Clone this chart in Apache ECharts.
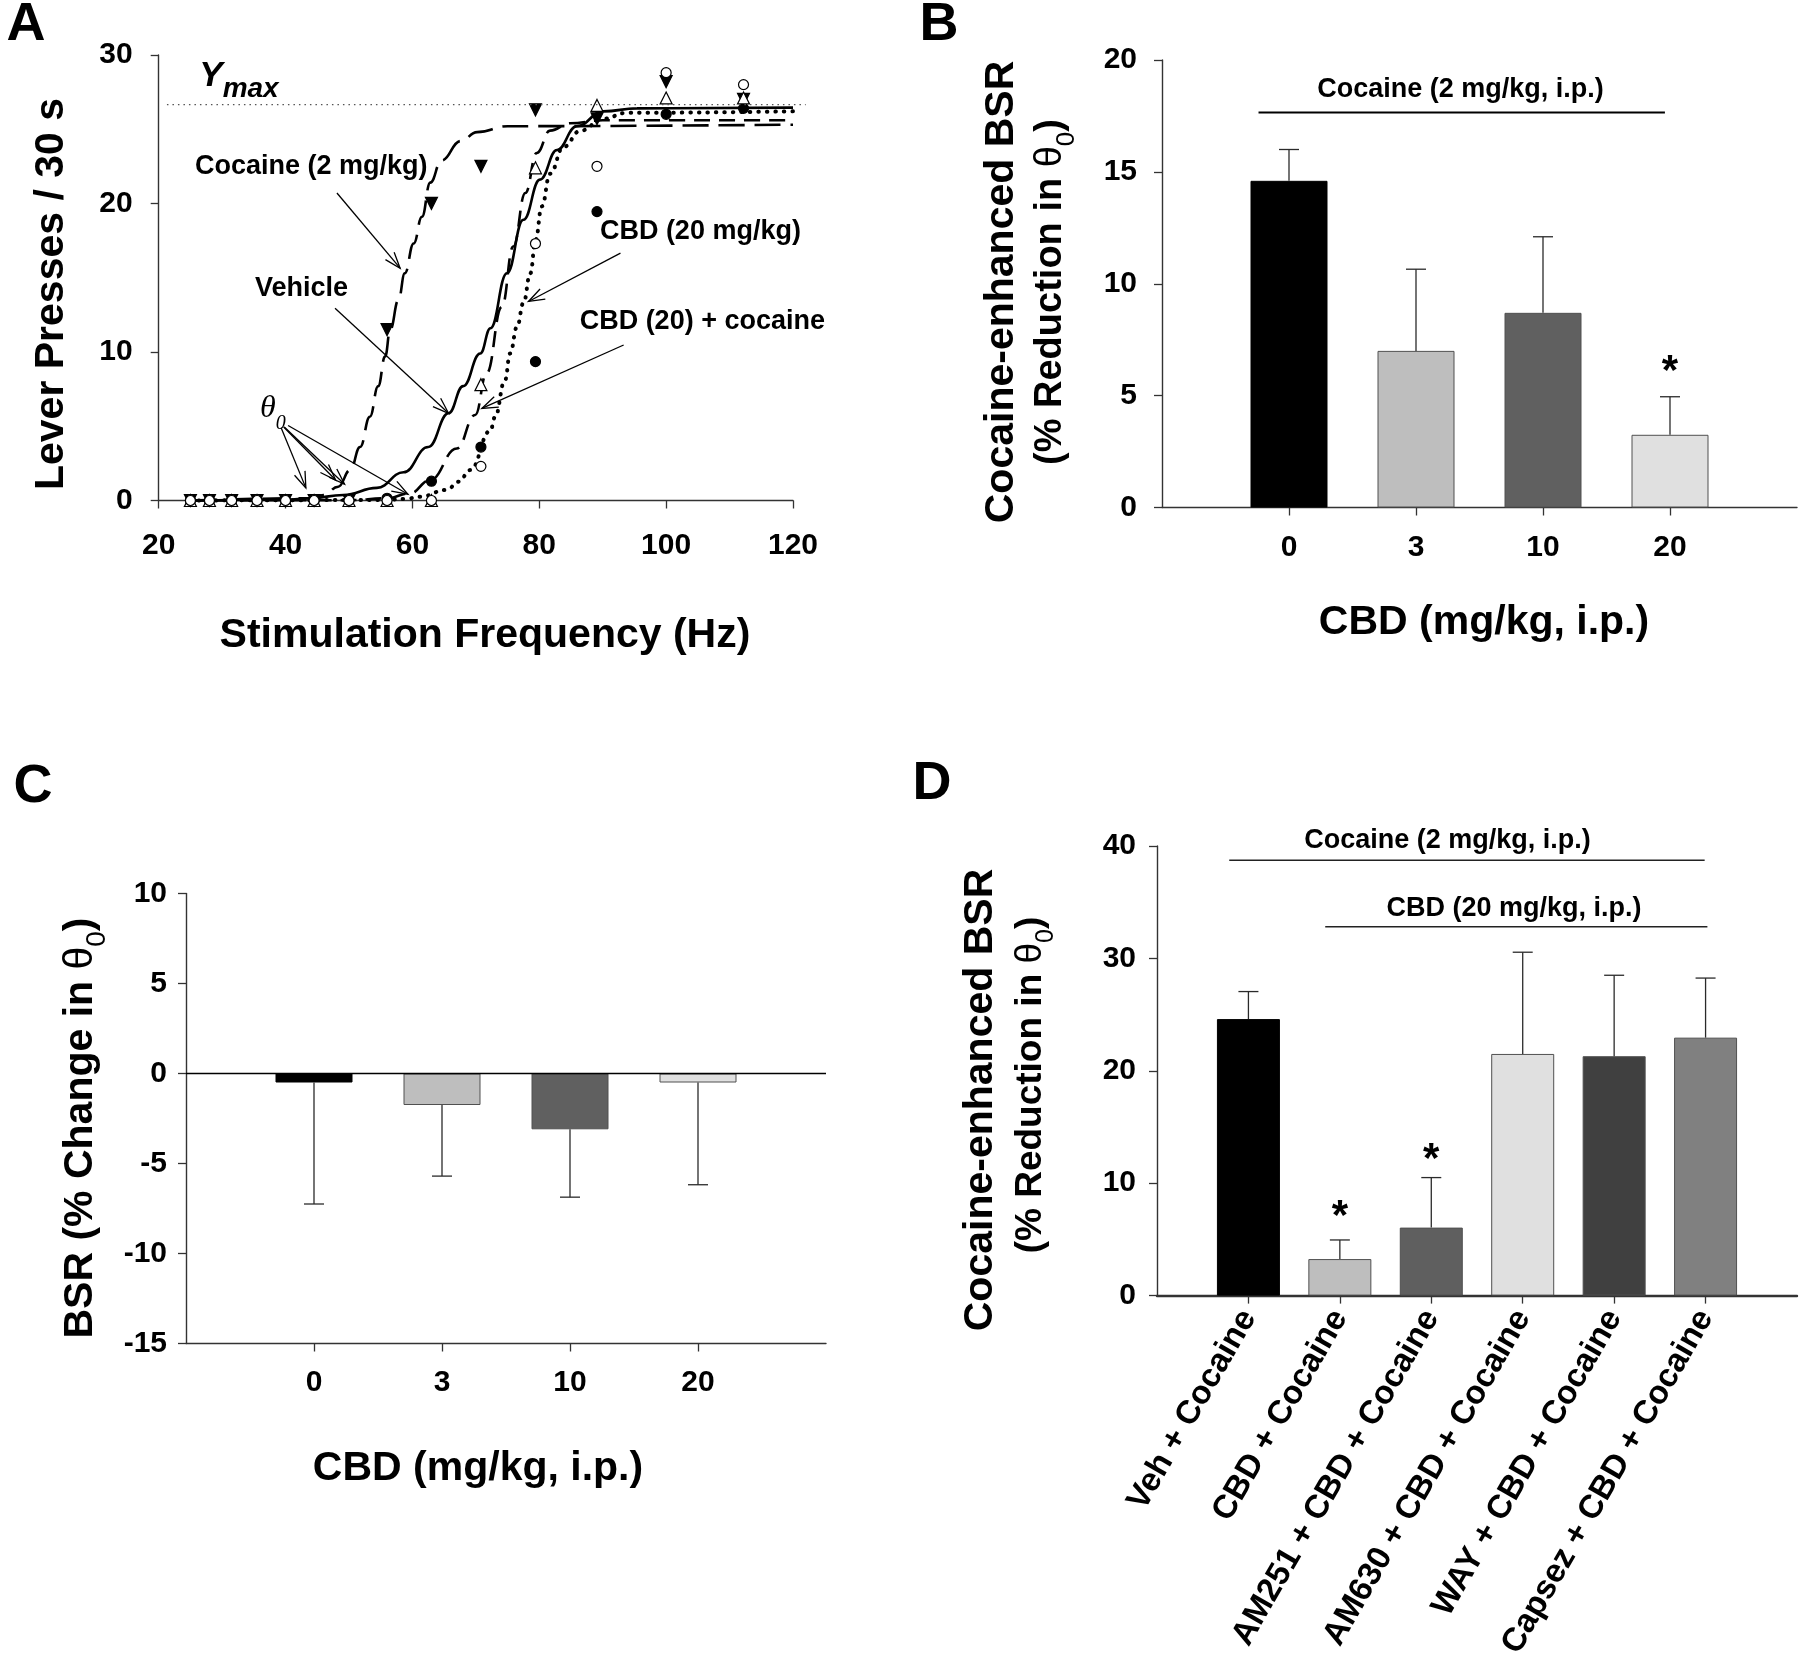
<!DOCTYPE html>
<html><head><meta charset="utf-8">
<script src="https://cdn.jsdelivr.net/npm/echarts@6/dist/echarts.min.js"></script>
<style>html,body{margin:0;padding:0;background:#fff}#c{width:1800px;height:1675px}</style>
</head><body><div id="c"></div>
<script>
// ---------- Panel A: lever presses vs stimulation frequency ----------
const freqHz = [25, 28, 31.5, 35.5, 40, 44.5, 50, 56, 63, 70.8, 79.4, 89.1, 100, 112.2];
const vehiclePresses    = [0, 0, 0, 0, 0, 0, 0, 0, 0, 7.8, 22.4, 26.6, 27.1, 27.1];
const cocainePresses    = [0, 0, 0, 0, 0, 0, 0, 11.5, 20.0, 22.5, 26.3, 25.7, 28.2, 27.0];
const cbdPresses        = [0, 0, 0, 0, 0, 0, 0, 0, 0, 2.3, 17.3, 22.5, 28.8, 28.0];
const cbdCocainePresses = [0, 0, 0, 0, 0, 0, 0, 0.15, 1.3, 3.6, 9.35, 19.45, 26.0, 26.4];

// fitted curves
const vehicleFitHz = [25, 40, 43.9, 49.1, 54.4, 58.6, 62.5, 65.7, 68.0, 70.7, 72.3, 74.9, 77.5, 80.1, 82.8, 85.9, 90.1, 95.4, 120];
const vehicleFit   = [0, 0.05, 0.15, 0.37, 0.85, 1.9, 3.6, 5.87, 7.7, 9.9, 11.6, 15.3, 18.9, 21.6, 23.6, 25.2, 26.2, 26.4, 26.45];
const cocaineFitHz = [25, 43.9, 46, 48.3, 50.2, 51.75, 53.3, 54.6, 55.7, 56.5, 57.8, 58.8, 60.2, 61.5, 62.8, 64.6, 67.6, 70.2, 75, 120];
const cocaineFit   = [0, 0.15, 0.37, 0.93, 2.05, 3.6, 5.64, 7.7, 9.7, 11.5, 13.5, 15.3, 17.3, 19.1, 21.4, 22.9, 24.2, 24.8, 25.2, 25.3];
const cbdCocFitHz  = [25, 50, 56, 59.6, 62.8, 67.0, 69.9, 71.7, 74.1, 75.9, 77.8, 79.6, 81.7, 84.9, 90, 120];
const cbdCocFit    = [0, 0.02, 0.15, 0.48, 1.38, 3.5, 5.76, 8.57, 13.05, 17.1, 20.7, 23.4, 24.9, 25.4, 25.6, 25.6];
const cbdFitHz     = [25, 55, 58.9, 61.2, 65.4, 67.3, 69.1, 72.3, 73.0, 74.6, 75.4, 76.5, 77.5, 78.6, 79.4, 80.4, 81.7, 83.8, 86.5, 90.1, 93.8, 120];
const cbdFit       = [0, 0.03, 0.1, 0.26, 0.71, 1.27, 2.05, 4.7, 5.6, 8.1, 9.9, 11.7, 13.3, 15.3, 17.5, 19.8, 22.0, 23.8, 24.9, 25.7, 26.1, 26.2];
const yMaxValue = 26.65;

// ---------- Panel B ----------
const cbdDoseLabels = ['0', '3', '10', '20'];
const bsrReduction    = [14.6, 7.0, 8.7, 3.25];
const bsrReductionSem = [1.4, 3.65, 3.4, 1.7];

// ---------- Panel C ----------
const bsrChange    = [-0.5, -1.75, -3.1, -0.5];
const bsrChangeSem = [6.75, 3.95, 3.77, 5.68];

// ---------- Panel D ----------
const groupLabels = ['Veh + Cocaine', 'CBD + Cocaine', 'AM251 + CBD + Cocaine', 'AM630 + CBD + Cocaine', 'WAY + CBD + Cocaine', 'Capsez + CBD + Cocaine'];
const bsrReductionD    = [24.6, 3.25, 6.05, 21.5, 21.3, 22.95];
const bsrReductionDSem = [2.45, 1.7, 4.45, 9.05, 7.2, 5.3];

// ---------- styling ----------
const FONT = "'Liberation Sans', Arial, Helvetica, sans-serif";
const SERIF = "'Liberation Serif', 'Times New Roman', serif";
const B_COLORS = ['#000000', '#bebebe', '#606060', '#e0e0e0'];
const D_COLORS = ['#000000', '#bebebe', '#5f5f5f', '#e0e0e0', '#404040', '#808080'];

const chart = echarts.init(document.getElementById('c'), null, {renderer: 'canvas', width: 1800, height: 1675});

const axisLineS = (w) => ({show: true, onZero: false, lineStyle: {color: '#333', width: w || 1.4}});
const axisTickS = (len) => ({show: true, inside: false, length: len || 8, lineStyle: {color: '#333', width: 1.3}});
const tickFont = (size, margin) => ({show: true, color: '#000', fontFamily: FONT, fontWeight: 'bold', fontSize: size, margin: margin});
const pad = (arr) => ['', ...arr, ''];

function fitLine(xs, ys, ls) {
  return {type: 'line', xAxisIndex: 0, yAxisIndex: 0, data: xs.map((x, i) => [x, ys[i]]),
    symbol: 'none', showSymbol: false, smooth: 0.45, smoothMonotone: 'x', clip: false, silent: true, z: 2,
    lineStyle: Object.assign({color: '#000', width: 2.6}, ls)};
}
function points(ys, symbol, filled, rotate, size, z) {
  return {type: 'scatter', xAxisIndex: 0, yAxisIndex: 0, data: freqHz.map((x, i) => [x, ys[i]]),
    symbol: symbol, symbolSize: size || 11, symbolRotate: rotate || 0, clip: false, silent: true, z: z,
    itemStyle: {color: filled ? '#000' : '#fff', borderColor: '#000', borderWidth: 1.2, opacity: 1}};
}
function bars(xi, yi, values, colors, width) {
  return {type: 'bar', xAxisIndex: xi, yAxisIndex: yi, barWidth: width, silent: true, z: 2,
    data: ['-', ...values.map((v, i) => ({value: v, itemStyle: {color: colors[i], borderColor: i === 0 ? '#000' : '#505050', borderWidth: 1}})), '-']};
}
function errorBars(xi, yi, means, sems, dir, capHalf) {
  return {type: 'custom', xAxisIndex: xi, yAxisIndex: yi, silent: true, clip: false, z: 5,
    data: means.map((m, i) => [i + 1, m, m + dir * sems[i]]),
    renderItem(params, api) {
      const x = api.value(0);
      const p1 = api.coord([x, api.value(1)]);
      const p2 = api.coord([x, api.value(2)]);
      const st = {stroke: '#2a2a2a', lineWidth: 1.3};
      return {type: 'group', children: [
        {type: 'line', shape: {x1: p1[0], y1: p1[1], x2: p2[0], y2: p2[1]}, style: st},
        {type: 'line', shape: {x1: p2[0] - capHalf, y1: p2[1], x2: p2[0] + capHalf, y2: p2[1]}, style: st}
      ]};
    }};
}
function segLines(xi, yi, segs) {
  return {type: 'custom', xAxisIndex: xi, yAxisIndex: yi, silent: true, clip: false, z: 6,
    data: segs.map(s => [s.from[0], s.from[1], s.to[0], s.to[1]]),
    encode: {x: [0, 2], y: [1, 3]},
    renderItem(params, api) {
      const s = segs[params.dataIndex];
      const p1 = api.coord([api.value(0), api.value(1)]);
      const p2 = api.coord([api.value(2), api.value(3)]);
      const st = Object.assign({stroke: '#000', lineWidth: 1.3, fill: null}, s.style || {});
      const children = [{type: 'line', shape: {x1: p1[0], y1: p1[1], x2: p2[0], y2: p2[1]}, style: st}];
      if (s.arrow) {
        const ang = Math.atan2(p2[1] - p1[1], p2[0] - p1[0]);
        const L = 17, w = 0.34;
        const h1 = [p2[0] - L * Math.cos(ang - w), p2[1] - L * Math.sin(ang - w)];
        const h2 = [p2[0] - L * Math.cos(ang + w), p2[1] - L * Math.sin(ang + w)];
        children.push({type: 'polyline', shape: {points: [h1, p2, h2]}, style: st});
      }
      return {type: 'group', children};
    }};
}
function texts(xi, yi, items) {
  return {type: 'custom', xAxisIndex: xi, yAxisIndex: yi, silent: true, clip: false, z: 7,
    data: items.map(t => [t.at[0], t.at[1]]),
    renderItem(params, api) {
      const t = items[params.dataIndex];
      const p = api.coord([api.value(0), api.value(1)]);
      return {type: 'text', x: p[0], y: p[1], style: Object.assign({
        text: t.text, fill: '#000', align: 'center', verticalAlign: 'middle',
        fontFamily: FONT, fontWeight: 'bold', fontSize: 27}, t.style || {})};
    }};
}

// annotations for panel A (data coordinates)
const arrowsA = [
  {from: [48.1, 20.7], to: [58.06, 15.64], arrow: true},
  {from: [47.8, 12.94], to: [65.7, 5.87], arrow: true},
  {from: [92.8, 16.65], to: [78.3, 13.4], arrow: true},
  {from: [93.3, 10.47], to: [70.95, 6.2], arrow: true},
  {from: [39.3, 4.9], to: [43.2, 0.85], arrow: true},
  {from: [39.7, 4.95], to: [47.9, 1.38], arrow: true},
  {from: [39.8, 4.95], to: [49.3, 1.1], arrow: true},
  {from: [40.4, 5.05], to: [59.3, 0.42], arrow: true},
  {from: [21.3, yMaxValue], to: [122, yMaxValue], style: {stroke: '#555', lineWidth: 1.2, lineDash: [1.5, 4]}}
];
const subRich = (mainSize, subSize, mainLH, subLH, family, fstyle, weight) => ({
  m: {fontSize: mainSize, fontFamily: family, fontStyle: fstyle, fontWeight: weight, fill: '#000', lineHeight: mainLH, verticalAlign: 'middle'},
  s: {fontSize: subSize, fontFamily: family, fontStyle: fstyle, fontWeight: weight, fill: '#000', lineHeight: subLH, verticalAlign: 'bottom'}
});
const textsA = [
  {at: [44.06, 22.48], text: 'Cocaine (2 mg/kg)'},
  {at: [42.5, 14.3], text: 'Vehicle'},
  {at: [105.4, 18.1], text: 'CBD (20 mg/kg)'},
  {at: [105.7, 12.04], text: 'CBD (20) + cocaine'},
  {at: [38.0, 6.2], text: '{m|θ}{s|0}', style: {rich: subRich(32, 20, 50, 26, SERIF, 'italic', 'normal')}},
  {at: [26.4, 28.55], text: '{m|Y}{s|max}', style: {align: 'left', rich: subRich(35, 28, 54, 38, FONT, 'italic', 'bold')}}
];

// annotations for B / D (hidden value axes, category positions are 1..n)
const linesB = [{from: [0.76, 17.65], to: [3.96, 17.65], style: {lineWidth: 2}}];
const textsB = [
  {at: [2.35, 18.69], text: 'Cocaine (2 mg/kg, i.p.)'},
  {at: [4, 6.03], text: '*', style: {fontSize: 42}}
];
const linesC = [{from: [0, 0], to: [5, 0], style: {lineWidth: 1.5}}];
const linesD = [
  {from: [0.79, 38.73], to: [5.99, 38.73], style: {lineWidth: 1.6, stroke: '#222'}},
  {from: [1.84, 32.82], to: [6.02, 32.82], style: {lineWidth: 1.6, stroke: '#222'}}
];
const textsD = [
  {at: [3.177, 40.47], text: 'Cocaine (2 mg/kg, i.p.)'},
  {at: [3.905, 34.4], text: 'CBD (20 mg/kg, i.p.)'},
  {at: [2, 6.95], text: '*', style: {fontSize: 42}},
  {at: [3, 12.0], text: '*', style: {fontSize: 42}}
];

// axis titles and panel letters
const titleStyle = (size) => ({fill: '#000', fontFamily: FONT, fontWeight: 'bold', fontSize: size, align: 'center', verticalAlign: 'middle'});
function plainTitle(text, x, y, rot, size) {
  return {type: 'text', x, y, rotation: rot ? Math.PI / 2 : 0, silent: true, style: Object.assign({text}, titleStyle(size || 41))};
}
function thetaTitle(prefix, x, y, size) {
  const a = {fontSize: size, fontFamily: FONT, fontWeight: 'bold', fill: '#000', lineHeight: size * 1.5, verticalAlign: 'middle'};
  const t = {fontSize: size, fontFamily: FONT, fontWeight: 'normal', fill: '#000', lineHeight: size * 1.5, verticalAlign: 'middle'};
  const s = {fontSize: Math.round(size * 0.68), fontFamily: FONT, fontWeight: 'normal', fill: '#000', lineHeight: size * 1.5 - 24, verticalAlign: 'bottom'};
  return {type: 'text', x, y, rotation: Math.PI / 2, silent: true,
    style: Object.assign(titleStyle(size), {text: '{a|' + prefix + '}{t|θ}{s|0}{a|)}', rich: {a, t, s}})};
}
const graphics = [
  plainTitle('A', 26, 25, false, 54),
  plainTitle('B', 939, 25, false, 54),
  plainTitle('C', 33, 787, false, 54),
  plainTitle('D', 932, 784, false, 54),
  plainTitle('Lever Presses / 30 s', 52, 294, true, 41),
  plainTitle('Stimulation Frequency (Hz)', 485, 636, false, 41),
  plainTitle('Cocaine-enhanced BSR', 1002, 292, true, 41),
  thetaTitle('(% Reduction in ', 1051, 292, 38),
  plainTitle('CBD (mg/kg, i.p.)', 1484, 623, false, 41),
  thetaTitle('BSR (% Change in ', 80.8, 1128, 41),
  plainTitle('CBD (mg/kg, i.p.)', 478, 1469, false, 41),
  plainTitle('Cocaine-enhanced BSR', 981, 1100, true, 41),
  thetaTitle('(% Reduction in ', 1031, 1085, 37)
];

const hiddenX = (g, max) => ({type: 'value', gridIndex: g, min: 0, max: max, show: false});
const catTickInterval = (i, v) => v !== '';

const option = {
  animation: false,
  backgroundColor: '#fff',
  grid: [
    {left: 158.7, top: 54.9, width: 634.3, height: 445.6},
    {left: 1162, top: 60, width: 637, height: 447.5},
    {left: 186, top: 893.5, width: 640, height: 450},
    {left: 1157, top: 846, width: 640, height: 449.6}
  ],
  xAxis: [
    {type: 'value', gridIndex: 0, min: 20, max: 120, interval: 20, axisLine: axisLineS(1.4), axisTick: axisTickS(8), axisLabel: tickFont(30, 30), splitLine: {show: false}},
    {type: 'category', gridIndex: 1, data: pad(cbdDoseLabels), boundaryGap: false, axisLine: axisLineS(1.4),
      axisTick: Object.assign(axisTickS(8), {interval: catTickInterval}), axisLabel: Object.assign(tickFont(30, 25), {interval: 0}), splitLine: {show: false}},
    hiddenX(1, 5),
    {type: 'category', gridIndex: 2, data: pad(cbdDoseLabels), boundaryGap: false, axisLine: axisLineS(1.4),
      axisTick: Object.assign(axisTickS(8), {interval: catTickInterval}), axisLabel: Object.assign(tickFont(30, 24), {interval: 0}), splitLine: {show: false}},
    hiddenX(2, 5),
    {type: 'category', gridIndex: 3, data: pad(groupLabels), boundaryGap: false, axisLine: axisLineS(2.4),
      axisTick: Object.assign(axisTickS(8), {interval: catTickInterval}), axisLabel: Object.assign(tickFont(33, 17), {interval: 0, rotate: 60}), splitLine: {show: false}},
    hiddenX(3, 7)
  ],
  yAxis: [
    {type: 'value', gridIndex: 0, min: 0, max: 30, interval: 10, axisLine: axisLineS(1.4), axisTick: axisTickS(8), axisLabel: tickFont(30, 26), splitLine: {show: false}},
    {type: 'value', gridIndex: 1, min: 0, max: 20, interval: 5, axisLine: axisLineS(1.4), axisTick: axisTickS(8), axisLabel: tickFont(30, 25), splitLine: {show: false}},
    {type: 'value', gridIndex: 2, min: -15, max: 10, interval: 5, axisLine: axisLineS(1.4), axisTick: axisTickS(8), axisLabel: tickFont(30, 19), splitLine: {show: false}},
    {type: 'value', gridIndex: 3, min: 0, max: 40, interval: 10, axisLine: axisLineS(1.4), axisTick: axisTickS(8), axisLabel: tickFont(30, 21), splitLine: {show: false}}
  ],
  graphic: graphics,
  series: [
    // Panel A
    fitLine(vehicleFitHz, vehicleFit, {type: 'solid'}),
    fitLine(cocaineFitHz, cocaineFit, {type: [26, 10]}),
    fitLine(cbdCocFitHz, cbdCocFit, {type: [16, 9]}),
    fitLine(cbdFitHz, cbdFit, {type: [0.5, 8], cap: 'round', width: 4}),
    points(cocainePresses, 'triangle', true, 180, 12, 3),
    points(cbdCocainePresses, 'circle', true, 0, 10, 3),
    points(vehiclePresses, 'triangle', false, 0, 12, 4),
    points(cbdPresses, 'circle', false, 0, 10, 4),
    segLines(0, 0, arrowsA),
    texts(0, 0, textsA),
    // Panel B
    bars(1, 1, bsrReduction, B_COLORS, 77),
    errorBars(2, 1, bsrReduction, bsrReductionSem, 1, 10),
    segLines(2, 1, linesB),
    texts(2, 1, textsB),
    // Panel C
    bars(3, 2, bsrChange, B_COLORS, 77),
    errorBars(4, 2, bsrChange, bsrChangeSem, -1, 10),
    segLines(4, 2, linesC),
    // Panel D
    bars(5, 3, bsrReductionD, D_COLORS, 63),
    errorBars(6, 3, bsrReductionD, bsrReductionDSem, 1, 10),
    segLines(6, 3, linesD),
    texts(6, 3, textsD)
  ]
};
chart.setOption(option);
</script>
</body></html>
